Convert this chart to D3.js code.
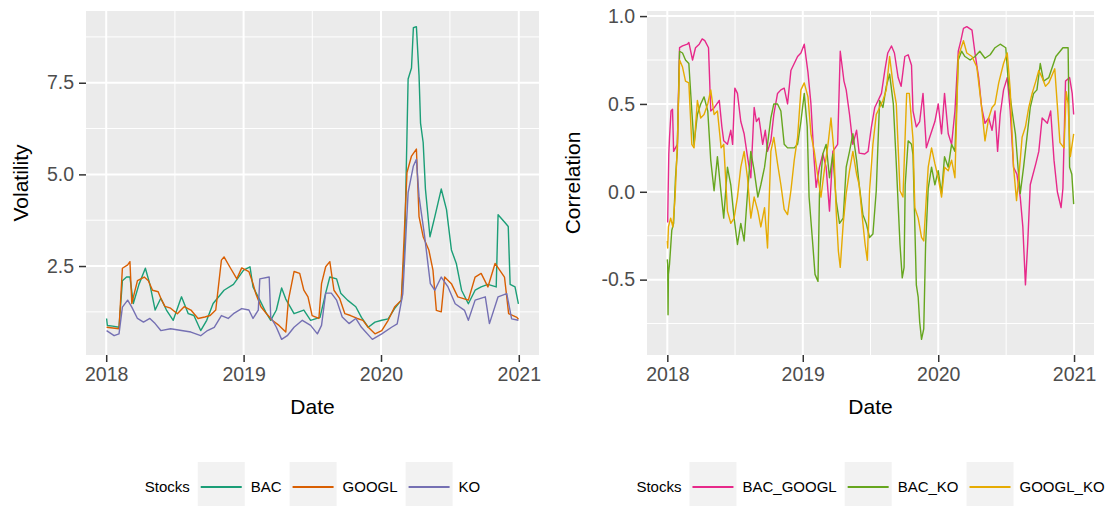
<!DOCTYPE html>
<html>
<head>
<meta charset="utf-8">
<script src="https://cdn.jsdelivr.net/npm/d3@7"></script>
<style>
  body { margin: 0; background: #fff; }
  text { font-family: "Liberation Sans", Arial, sans-serif; }
</style>
</head>
<body>
<svg id="chart" width="1106" height="506"></svg>
<script>
// dates are ISO ordinal dates: year-dayOfYear
const parseDay = d3.timeParse('%Y-%j')

const volStocks = ['BAC', 'GOOGL', 'KO']
const volColors = ['#1B9E77', '#D95F02', '#7570B3']
const corStocks = ['BAC_GOOGL', 'BAC_KO', 'GOOGL_KO']
const corColors = ['#E7298A', '#66A61E', '#E6AB02']

const xTickLabels = ['2018', '2019', '2020', '2021']
const volTicks = [2.5, 5.0, 7.5]
const corTicks = [-0.5, 0.0, 0.5, 1.0]

const bacVol = [
	['2018-002',1.07],['2018-004',0.88],['2018-018',0.86],['2018-035',0.83],['2018-044',2.1],['2018-055',2.2],
	['2018-064',2.2],['2018-073',1.48],['2018-088',2.0],['2018-105',2.44],['2018-117',2.0],['2018-131',1.3],
	['2018-146',1.62],['2018-161',1.3],['2018-179',1.02],['2018-201',1.66],['2018-219',1.2],['2018-234',1.15],
	['2018-252',0.74],['2018-268',1.02],['2018-285',1.48],['2018-314',1.84],['2018-339',2.0],
	['2019-001',2.39],['2019-018',2.48],['2019-026',1.93],['2019-044',1.57],['2019-062',1.2],['2019-073',1.02],
	['2019-088',1.3],['2019-102',1.9],['2019-113',1.6],['2019-135',1.2],['2019-161',1.3],['2019-179',1.02],
	['2019-204',1.1],['2019-219',1.76],['2019-230',2.2],['2019-248',2.15],['2019-259',1.76],['2019-277',1.57],
	['2019-299',1.39],['2019-314',1.1],['2019-332',0.83],['2019-350',0.97],
	['2020-003',1.02],['2020-020',1.06],['2020-037',1.34],['2020-055',1.57],['2020-064',3.1],['2020-073',7.6],
	['2020-082',7.9],['2020-087',9.0],['2020-095',9.03],['2020-102',7.7],['2020-106',6.4],['2020-113',5.87],
	['2020-119',4.6],['2020-131',3.3],['2020-144',3.85],['2020-161',4.6],['2020-175',4.04],['2020-188',2.94],
	['2020-201',2.57],['2020-215',1.84],['2020-233',1.47],['2020-251',1.84],['2020-267',1.93],['2020-285',2.0],
	['2020-307',1.93],['2020-312',3.9],['2020-329',3.7],['2020-339',3.58],['2020-344',2.0],['2020-357',1.93],
	['2020-366',1.47]
]

const googlVol = [
	['2018-002',0.83],['2018-035',0.79],['2018-044',2.44],['2018-058',2.53],['2018-064',2.62],['2018-069',1.48],
	['2018-084',2.1],['2018-102',2.2],['2018-113',2.1],['2018-124',1.84],['2018-139',1.8],['2018-146',1.62],
	['2018-157',1.4],['2018-172',1.35],['2018-190',1.2],['2018-208',1.39],['2018-226',1.3],['2018-245',1.07],
	['2018-263',1.11],['2018-277',1.15],['2018-292',1.3],['2018-307',2.66],['2018-314',2.75],['2018-329',2.48],
	['2018-348',2.15],['2018-361',2.45],
	['2019-015',2.35],['2019-026',2.02],['2019-033',1.76],['2019-047',1.39],['2019-062',1.2],['2019-077',1.02],
	['2019-095',0.88],['2019-113',0.7],['2019-120',1.57],['2019-135',2.35],['2019-150',2.3],['2019-161',1.84],
	['2019-172',1.66],['2019-183',1.15],['2019-201',1.07],['2019-208',2.02],['2019-219',2.48],['2019-230',2.62],
	['2019-241',1.84],['2019-256',1.62],['2019-270',1.2],['2019-285',1.15],['2019-303',1.07],['2019-318',1.02],
	['2019-332',0.83],['2019-350',0.65],
	['2020-003',0.74],['2020-020',1.02],['2020-037',1.38],['2020-055',1.57],['2020-070',5.05],['2020-082',5.5],
	['2020-095',5.69],['2020-102',3.85],['2020-113',3.3],['2020-128',2.94],['2020-139',2.39],['2020-148',1.29],
	['2020-161',1.25],['2020-170',2.2],['2020-188',2.02],['2020-205',1.66],['2020-233',1.57],['2020-251',2.2],
	['2020-267',2.3],['2020-285',1.93],['2020-304',2.57],['2020-329',2.2],['2020-340',1.2],['2020-362',1.1],
	['2020-366',1.05]
]

const koVol = [
	['2018-002',0.74],['2018-022',0.6],['2018-035',0.65],['2018-044',1.38],['2018-058',1.57],['2018-069',1.38],
	['2018-084',1.07],['2018-100',0.97],['2018-117',1.07],['2018-131',0.93],['2018-146',0.74],['2018-172',0.79],
	['2018-201',0.74],['2018-226',0.7],['2018-252',0.6],['2018-270',0.74],['2018-288',0.83],['2018-307',1.15],
	['2018-325',1.07],['2018-339',1.2],['2018-361',1.34],
	['2019-015',1.3],['2019-026',1.07],['2019-040',1.3],['2019-044',2.15],['2019-069',2.2],['2019-073',1.11],
	['2019-088',0.83],['2019-102',0.5],['2019-117',0.6],['2019-135',0.83],['2019-157',1.02],['2019-179',0.88],
	['2019-197',0.65],['2019-208',0.88],['2019-219',1.76],['2019-234',1.76],['2019-248',1.57],['2019-263',1.11],
	['2019-281',0.93],['2019-299',1.07],['2019-314',0.83],['2019-343',0.5],
	['2020-003',0.65],['2020-029',0.83],['2020-044',0.92],['2020-059',1.75],['2020-073',4.5],['2020-087',5.23],
	['2020-095',5.41],['2020-102',4.4],['2020-117',3.3],['2020-132',2.02],['2020-144',1.84],['2020-161',2.2],
	['2020-179',1.93],['2020-198',1.47],['2020-223',1.29],['2020-233',1.02],['2020-251',1.57],['2020-278',1.66],
	['2020-289',0.93],['2020-312',1.66],['2020-335',1.75],['2020-348',1.06],['2020-366',1.02]
]

const bacGooglCor = [
	['2018-002',-0.175],['2018-003',-0.03],['2018-005',0.215],['2018-007',0.31],['2018-011',0.46],['2018-015',0.47],
	['2018-018',0.23],['2018-028',0.27],['2018-034',0.82],['2018-042',0.83],['2018-055',0.84],['2018-059',0.85],
	['2018-069',0.75],['2018-077',0.82],['2018-087',0.84],['2018-095',0.87],['2018-102',0.86],['2018-112',0.82],
	['2018-118',0.46],['2018-128',0.48],['2018-141',0.52],['2018-148',0.37],['2018-153',0.29],['2018-163',0.27],
	['2018-172',0.35],['2018-177',0.27],['2018-183',0.59],['2018-190',0.56],['2018-199',0.4],['2018-208',0.33],
	['2018-217',0.2],['2018-226',0.08],['2018-235',0.48],['2018-241',0.4],['2018-248',0.42],['2018-258',0.27],
	['2018-265',0.35],['2018-271',0.23],['2018-280',0.29],['2018-288',0.44],['2018-298',0.56],['2018-307',0.58],
	['2018-316',0.59],['2018-325',0.5],['2018-334',0.69],['2018-352',0.77],['2018-361',0.79],
	['2019-005',0.84],['2019-015',0.68],['2019-023',0.5],['2019-031',0.2],['2019-037',0.025],['2019-046',0.14],
	['2019-055',0.215],['2019-064',0.14],['2019-073',-0.11],['2019-082',0.23],['2019-095',0.27],['2019-102',0.8],
	['2019-112',0.63],['2019-118',0.58],['2019-127',0.44],['2019-136',0.27],['2019-146',0.35],['2019-153',0.22],
	['2019-168',0.215],['2019-177',0.23],['2019-186',0.37],['2019-195',0.48],['2019-204',0.52],['2019-213',0.56],
	['2019-222',0.69],['2019-230',0.79],['2019-240',0.83],['2019-248',0.79],['2019-258',0.65],['2019-266',0.6],
	['2019-276',0.77],['2019-285',0.78],['2019-294',0.72],['2019-298',0.46],['2019-307',0.37],['2019-316',0.4],
	['2019-325',0.56],['2019-334',0.25],['2019-343',0.31],['2019-357',0.4],
	['2020-001',0.5],['2020-010',0.33],['2020-018',0.56],['2020-028',0.33],['2020-037',0.27],['2020-046',0.46],
	['2020-055',0.8],['2020-062',0.86],['2020-069',0.93],['2020-078',0.94],['2020-092',0.92],['2020-100',0.79],
	['2020-110',0.65],['2020-118',0.48],['2020-127',0.39],['2020-137',0.42],['2020-146',0.35],['2020-154',0.46],
	['2020-161',0.23],['2020-168',0.44],['2020-177',0.58],['2020-187',0.65],['2020-195',0.46],['2020-204',0.14],
	['2020-213',0.1],['2020-222',-0.03],['2020-229',-0.2],['2020-236',-0.53],['2020-242',-0.3],['2020-249',0.04],
	['2020-264',0.16],['2020-272',0.23],['2020-281',0.42],['2020-295',0.39],['2020-304',0.46],['2020-313',0.18],
	['2020-322',0.0],['2020-332',-0.09],['2020-337',0.02],['2020-344',0.63],['2020-355',0.65],['2020-362',0.56],
	['2020-366',0.44]
]

const bacKoCor = [
	['2018-001',-0.385],['2018-002',-0.41],['2018-003',-0.7],['2018-004',-0.47],['2018-007',-0.41],['2018-013',-0.22],
	['2018-018',-0.18],['2018-023',0.08],['2018-028',0.23],['2018-034',0.8],['2018-042',0.79],['2018-050',0.75],
	['2018-059',0.73],['2018-067',0.46],['2018-073',0.27],['2018-082',0.44],['2018-091',0.5],['2018-100',0.54],
	['2018-110',0.46],['2018-118',0.18],['2018-127',0.006],['2018-136',0.2],['2018-146',-0.01],['2018-153',-0.15],
	['2018-163',0.14],['2018-172',0.04],['2018-181',-0.15],['2018-190',-0.3],['2018-199',-0.18],['2018-208',-0.28],
	['2018-217',-0.01],['2018-226',0.23],['2018-235',0.12],['2018-245',-0.03],['2018-253',0.04],['2018-263',0.14],
	['2018-271',0.27],['2018-280',0.42],['2018-288',0.5],['2018-298',0.5],['2018-307',0.46],['2018-316',0.27],
	['2018-325',0.25],['2018-343',0.25],['2018-352',0.27],['2018-361',0.4],
	['2019-005',0.56],['2019-013',0.37],['2019-018',-0.03],['2019-028',-0.3],['2019-034',-0.47],['2019-042',-0.51],
	['2019-046',-0.01],['2019-055',0.215],['2019-064',0.27],['2019-073',0.08],['2019-082',0.215],['2019-091',-0.05],
	['2019-100',-0.18],['2019-110',-0.15],['2019-118',0.14],['2019-127',0.23],['2019-136',0.33],['2019-146',0.18],
	['2019-153',0.04],['2019-163',-0.13],['2019-172',-0.18],['2019-181',-0.26],['2019-190',-0.24],['2019-199',0.006],
	['2019-208',0.52],['2019-217',0.48],['2019-226',0.6],['2019-235',0.67],['2019-245',0.5],['2019-253',0.16],
	['2019-263',-0.3],['2019-269',-0.49],['2019-274',-0.43],['2019-277',0.04],['2019-285',0.29],['2019-294',0.27],
	['2019-298',0.21],['2019-301',-0.03],['2019-307',-0.53],['2019-312',-0.6],['2019-316',-0.74],['2019-321',-0.84],
	['2019-327',-0.78],['2019-332',-0.3],['2019-339',0.02],['2019-348',0.14],['2019-357',0.04],
	['2020-001',0.12],['2020-010',-0.01],['2020-018',0.2],['2020-028',0.14],['2020-037',0.27],['2020-046',0.23],
	['2020-055',0.75],['2020-064',0.8],['2020-073',0.77],['2020-087',0.75],['2020-100',0.77],['2020-113',0.8],
	['2020-127',0.76],['2020-141',0.78],['2020-154',0.82],['2020-168',0.84],['2020-183',0.82],['2020-190',0.62],
	['2020-200',0.46],['2020-209',0.33],['2020-216',0.14],['2020-222',-0.01],['2020-231',0.14],['2020-240',0.31],
	['2020-249',0.48],['2020-258',0.56],['2020-267',0.58],['2020-276',0.73],['2020-285',0.63],['2020-299',0.65],
	['2020-318',0.77],['2020-337',0.82],['2020-351',0.82],['2020-355',0.14],['2020-361',0.1],['2020-366',-0.07]
]

const googlKoCor = [
	['2018-001',-0.28],['2018-002',-0.32],['2018-004',-0.2],['2018-010',-0.15],['2018-016',-0.2],['2018-022',-0.03],
	['2018-028',0.27],['2018-034',0.75],['2018-042',0.71],['2018-050',0.63],['2018-059',0.62],['2018-067',0.27],
	['2018-073',0.25],['2018-082',0.52],['2018-091',0.42],['2018-100',0.44],['2018-110',0.5],['2018-118',0.58],
	['2018-127',0.44],['2018-136',0.46],['2018-146',0.25],['2018-153',0.27],['2018-163',-0.11],['2018-172',-0.18],
	['2018-181',-0.15],['2018-190',-0.03],['2018-199',0.14],['2018-208',0.23],['2018-217',0.08],['2018-226',-0.15],
	['2018-235',-0.03],['2018-245',-0.11],['2018-253',-0.2],['2018-263',-0.09],['2018-271',-0.32],['2018-280',0.23],
	['2018-288',0.31],['2018-298',0.16],['2018-307',0.04],['2018-316',-0.1],['2018-325',-0.13],['2018-334',0.006],
	['2018-343',0.18],['2018-352',0.31],['2018-361',0.58],
	['2019-005',0.62],['2019-015',0.54],['2019-023',0.33],['2019-032',0.23],['2019-042',0.08],['2019-050',-0.03],
	['2019-059',0.12],['2019-069',0.27],['2019-077',0.42],['2019-085',0.23],['2019-091',-0.11],['2019-097',-0.34],
	['2019-102',-0.43],['2019-110',-0.18],['2019-118',-0.01],['2019-127',0.12],['2019-136',0.23],['2019-146',0.1],
	['2019-153',0.04],['2019-163',-0.18],['2019-169',-0.3],['2019-175',-0.39],['2019-181',0.006],['2019-190',0.27],
	['2019-199',0.44],['2019-208',0.48],['2019-217',0.52],['2019-226',0.58],['2019-235',0.77],['2019-245',0.6],
	['2019-253',0.5],['2019-263',0.006],['2019-271',-0.03],['2019-281',0.56],['2019-288',0.56],['2019-298',0.3],
	['2019-303',-0.09],['2019-312',-0.15],['2019-321',-0.26],['2019-327',-0.28],['2019-334',-0.03],['2019-339',0.14],
	['2019-348',0.25],['2019-357',0.16],
	['2020-001',0.08],['2020-010',-0.03],['2020-018',0.14],['2020-028',0.12],['2020-037',0.18],['2020-046',0.08],
	['2020-055',0.77],['2020-069',0.86],['2020-078',0.79],['2020-092',0.77],['2020-105',0.71],['2020-118',0.48],
	['2020-127',0.29],['2020-137',0.42],['2020-146',0.48],['2020-154',0.5],['2020-164',0.62],['2020-177',0.73],
	['2020-187',0.79],['2020-195',0.58],['2020-204',0.14],['2020-212',-0.05],['2020-218',0.08],['2020-227',0.31],
	['2020-236',0.37],['2020-245',0.48],['2020-254',0.56],['2020-264',0.63],['2020-272',0.69],['2020-281',0.65],
	['2020-290',0.6],['2020-299',0.62],['2020-315',0.7],['2020-329',0.28],['2020-340',0.25],['2020-346',0.57],
	['2020-351',0.5],['2020-357',0.2],['2020-366',0.33]
]

const svg = d3.select('#chart')

/**
 * draws one ggplot-like panel with its axes and bottom legend
 */
function drawPanel(opts) {

	const series = opts.series.map(s => s.map(d => [parseDay(d[0]), d[1]]))
		, allPts = series.flat()
		, xExt = d3.extent(allPts, d => d[0])
		, yExt = d3.extent(allPts, d => d[1])
		, xPad = (xExt[1] - xExt[0]) * 0.05
		, yPad = (yExt[1] - yExt[0]) * 0.05

	const x = d3.scaleTime()
		.domain([new Date(+xExt[0] - xPad), new Date(+xExt[1] + xPad)])
		.range([opts.left, opts.right])
	const y = d3.scaleLinear()
		.domain([yExt[0] - yPad, yExt[1] + yPad])
		.range([opts.bottom, opts.top])

	const g = svg.append('g')

	g.append('rect')
		.attr('x', opts.left).attr('y', opts.top)
		.attr('width', opts.right - opts.left).attr('height', opts.bottom - opts.top)
		.attr('fill', '#EBEBEB')

	const xMajor = xTickLabels.map(t => d3.timeParse('%Y')(t))
		, xMinor = d3.pairs(xMajor).map(p => new Date((+p[0] + +p[1]) / 2))
		, yMinor = d3.pairs(opts.yTicks).map(p => (p[0] + p[1]) / 2)

	const step = opts.yTicks[1] - opts.yTicks[0]
	yMinor.unshift(opts.yTicks[0] - step / 2)
	yMinor.push(opts.yTicks[opts.yTicks.length - 1] + step / 2)

	// minor grid
	g.selectAll('.yminor').data(yMinor.filter(v => y(v) > opts.top && y(v) < opts.bottom))
		.join('line')
		.attr('x1', opts.left).attr('x2', opts.right)
		.attr('y1', d => y(d)).attr('y2', d => y(d))
		.attr('stroke', '#fff').attr('stroke-width', 1)
	g.selectAll('.xminor').data(xMinor)
		.join('line')
		.attr('y1', opts.top).attr('y2', opts.bottom)
		.attr('x1', d => x(d)).attr('x2', d => x(d))
		.attr('stroke', '#fff').attr('stroke-width', 1)

	// major grid
	g.append('g').selectAll('line').data(opts.yTicks)
		.join('line')
		.attr('x1', opts.left).attr('x2', opts.right)
		.attr('y1', d => y(d)).attr('y2', d => y(d))
		.attr('stroke', '#fff').attr('stroke-width', 2)
	g.append('g').selectAll('line').data(xMajor)
		.join('line')
		.attr('y1', opts.top).attr('y2', opts.bottom)
		.attr('x1', d => x(d)).attr('x2', d => x(d))
		.attr('stroke', '#fff').attr('stroke-width', 2)

	// lines
	const line = d3.line()
		.x(d => x(d[0]))
		.y(d => y(d[1]))

	series.forEach((s, i) => {
		g.append('path')
			.datum(s)
			.attr('d', line)
			.attr('fill', 'none')
			.attr('stroke', opts.colors[i])
			.attr('stroke-width', 1.4)
			.attr('stroke-linejoin', 'round')
	})

	// axes
	const xAxis = d3.axisBottom(x)
		.tickValues(xMajor)
		.tickFormat(d3.timeFormat('%Y'))
		.tickSize(7)
		.tickPadding(5)
	// ggplot writes a plain hyphen for negatives
	const yAxis = d3.axisLeft(y)
		.tickValues(opts.yTicks)
		.tickFormat(d => d.toFixed(1))
		.tickSize(7)
		.tickPadding(5)

	g.append('g')
		.attr('transform', 'translate(0,' + opts.bottom + ')')
		.call(xAxis)
		.call(a => a.select('.domain').remove())
		.call(a => a.selectAll('line').attr('stroke', '#333').attr('stroke-width', 1.5))
		.call(a => a.selectAll('text').attr('fill', '#4D4D4D').style('font-size', '19.5px'))

	g.append('g')
		.attr('transform', 'translate(' + opts.left + ',0)')
		.call(yAxis)
		.call(a => a.select('.domain').remove())
		.call(a => a.selectAll('line').attr('stroke', '#333').attr('stroke-width', 1.5))
		.call(a => a.selectAll('text').attr('fill', '#4D4D4D').style('font-size', '19.5px'))

	// titles
	g.append('text')
		.attr('x', (opts.left + opts.right) / 2)
		.attr('y', opts.bottom + 59)
		.attr('text-anchor', 'middle')
		.style('font-size', '21px')
		.text('Date')

	g.append('text')
		.attr('transform', 'translate(' + opts.yTitleX + ',' + (opts.top + opts.bottom) / 2 + ') rotate(-90)')
		.attr('text-anchor', 'middle')
		.style('font-size', '21px')
		.text(opts.yTitle)

	// legend, centred under the panel
	const lg = g.append('g')
		, legendY = 487
		, keyW = 47
		, keyH = 50

	let cursor = 0
	const title = lg.append('text')
		.attr('x', 0).attr('y', legendY).attr('dy', '0.35em')
		.style('font-size', '15px')
		.text('Stocks')
	cursor += title.node().getComputedTextLength() + 8

	opts.names.forEach((name, i) => {
		lg.append('rect')
			.attr('x', cursor).attr('y', legendY - keyH / 2)
			.attr('width', keyW).attr('height', keyH)
			.attr('fill', '#F2F2F2')
		lg.append('line')
			.attr('x1', cursor + 3).attr('x2', cursor + keyW - 3)
			.attr('y1', legendY).attr('y2', legendY)
			.attr('stroke', opts.colors[i]).attr('stroke-width', 1.8)
		cursor += keyW + 6
		const t = lg.append('text')
			.attr('x', cursor).attr('y', legendY).attr('dy', '0.35em')
			.style('font-size', '15px')
			.text(name)
		cursor += t.node().getComputedTextLength() + 8
	})
	cursor -= 8
	lg.attr('transform', 'translate(' + ((opts.left + opts.right) / 2 - cursor / 2) + ',0)')
}

drawPanel({
	left: 86, right: 539, top: 11, bottom: 355,
	series: [bacVol, googlVol, koVol],
	colors: volColors,
	names: volStocks,
	yTicks: volTicks,
	yTitle: 'Volatility',
	yTitleX: 28
})

drawPanel({
	left: 647, right: 1094, top: 11, bottom: 355,
	series: [bacGooglCor, bacKoCor, googlKoCor],
	colors: corColors,
	names: corStocks,
	yTicks: corTicks,
	yTitle: 'Correlation',
	yTitleX: 580
})
</script>
</body>
</html>
